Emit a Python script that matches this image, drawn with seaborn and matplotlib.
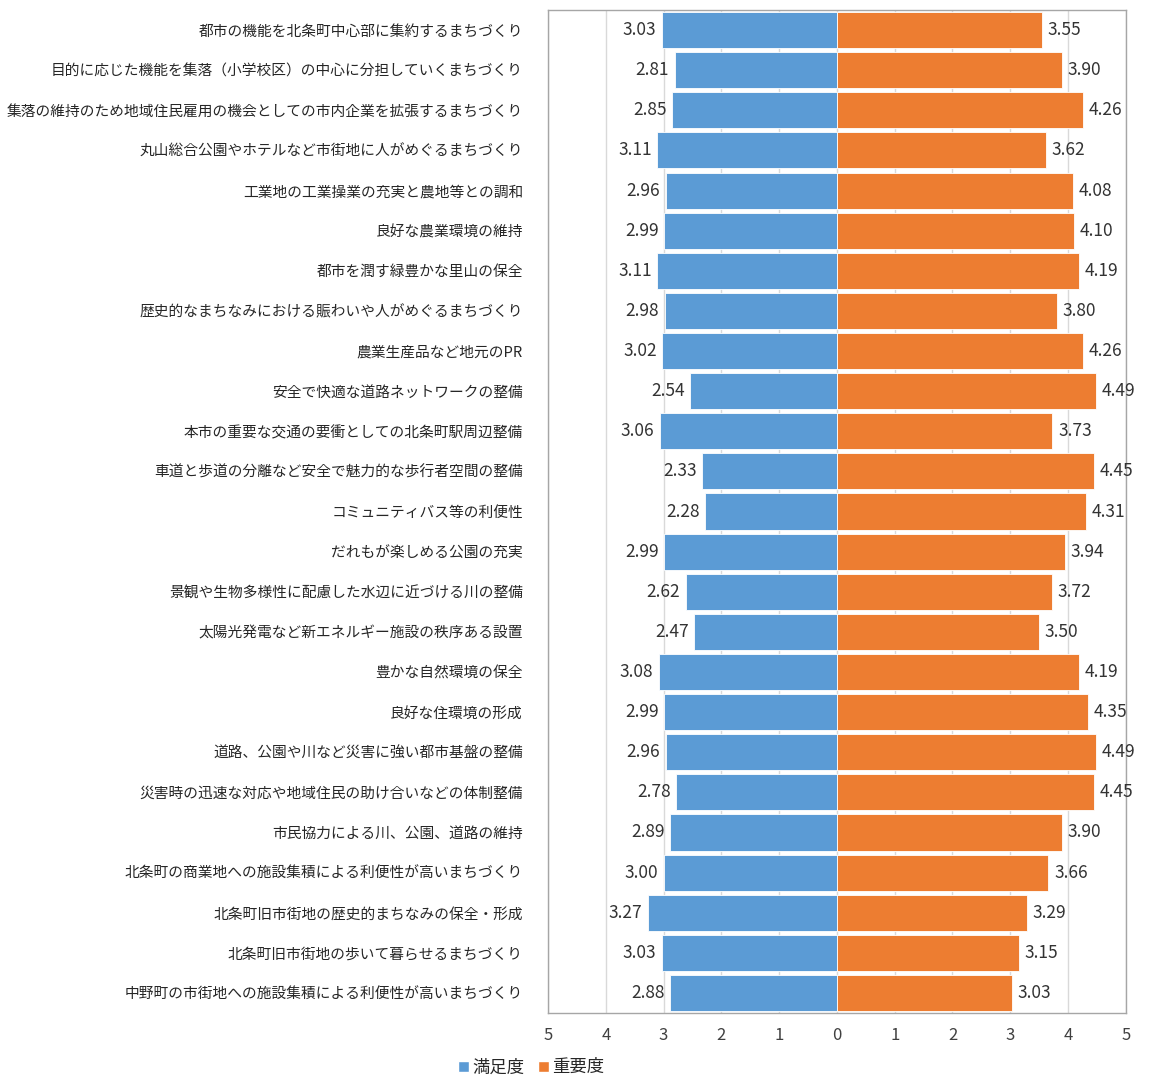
import matplotlib
matplotlib.use("Agg")
import matplotlib.pyplot as plt
import seaborn as sns
import pandas as pd
from matplotlib.patches import Patch

items = [
    "都市の機能を北条町中心部に集約するまちづくり",
    "目的に応じた機能を集落（小学校区）の中心に分担していくまちづくり",
    "集落の維持のため地域住民雇用の機会としての市内企業を拡張するまちづくり",
    "丸山総合公園やホテルなど市街地に人がめぐるまちづくり",
    "工業地の工業操業の充実と農地等との調和",
    "良好な農業環境の維持",
    "都市を潤す緑豊かな里山の保全",
    "歴史的なまちなみにおける賑わいや人がめぐるまちづくり",
    "農業生産品など地元のPR",
    "安全で快適な道路ネットワークの整備",
    "本市の重要な交通の要衝としての北条町駅周辺整備",
    "車道と歩道の分離など安全で魅力的な歩行者空間の整備",
    "コミュニティバス等の利便性",
    "だれもが楽しめる公園の充実",
    "景観や生物多様性に配慮した水辺に近づける川の整備",
    "太陽光発電など新エネルギー施設の秩序ある設置",
    "豊かな自然環境の保全",
    "良好な住環境の形成",
    "道路、公園や川など災害に強い都市基盤の整備",
    "災害時の迅速な対応や地域住民の助け合いなどの体制整備",
    "市民協力による川、公園、道路の維持",
    "北条町の商業地への施設集積による利便性が高いまちづくり",
    "北条町旧市街地の歴史的まちなみの保全・形成",
    "北条町旧市街地の歩いて暮らせるまちづくり",
    "中野町の市街地への施設集積による利便性が高いまちづくり",
]

satisfaction = [3.03, 2.81, 2.85, 3.11, 2.96, 2.99, 3.11, 2.98, 3.02, 2.54,
                3.06, 2.33, 2.28, 2.99, 2.62, 2.47, 3.08, 2.99, 2.96, 2.78,
                2.89, 3.00, 3.27, 3.03, 2.88]
importance = [3.55, 3.90, 4.26, 3.62, 4.08, 4.10, 4.19, 3.80, 4.26, 4.49,
              3.73, 4.45, 4.31, 3.94, 3.72, 3.50, 4.19, 4.35, 4.49, 4.45,
              3.90, 3.66, 3.29, 3.15, 3.03]

series_names = ["満足度", "重要度"]
series_colors = ["#5B9BD5", "#ED7D31"]
tick_values = [-5, -4, -3, -2, -1, 0, 1, 2, 3, 4, 5]
tick_labels = ["5", "4", "3", "2", "1", "0", "1", "2", "3", "4", "5"]

sns.set_theme(style="white")
plt.rcParams["font.family"] = ["Noto Sans CJK JP", "DejaVu Sans"]

# satisfaction drawn to the left (negative), importance to the right
df = pd.concat([
    pd.DataFrame({"item": items, "value": [-v for v in satisfaction], "series": series_names[0]}),
    pd.DataFrame({"item": items, "value": importance, "series": series_names[1]}),
], ignore_index=True)

fig = plt.figure(figsize=(11.5, 10.77), dpi=100)
ax = fig.add_axes([0.4765, 0.0594, 0.5025, 0.9313])

sns.barplot(data=df, y="item", x="value", hue="series", order=items,
            hue_order=series_names, dodge=False, width=0.9, saturation=1,
            palette=series_colors, edgecolor="white", linewidth=0.6,
            legend=False, ax=ax)

ax.set_xlim(-5, 5)
ax.set_ylim(len(items) - 0.5, -0.5)
ax.set_xticks(tick_values)
ax.set_xticklabels(tick_labels, fontsize=12, color="#404040")
ax.set_xlabel("")
ax.set_ylabel("")
ax.tick_params(axis="y", labelsize=10.6, colors="#262626", length=0, pad=18)
ax.tick_params(axis="x", length=4, color="#A6A6A6", pad=6)

ax.set_axisbelow(True)
ax.xaxis.grid(True, color="#D9D9D9", linewidth=1.0)
ax.yaxis.grid(False)
for side in ["left", "right", "top", "bottom"]:
    ax.spines[side].set_visible(True)
    ax.spines[side].set_color("#A6A6A6")
    ax.spines[side].set_linewidth(1.0)

# value labels at the outer end of each bar
ax.bar_label(ax.containers[0], labels=[f"{v:.2f}" for v in satisfaction],
             padding=4, fontsize=12.5, color="#333333")
ax.bar_label(ax.containers[1], labels=[f"{v:.2f}" for v in importance],
             padding=4, fontsize=12.5, color="#333333")

handles = [Patch(facecolor=c) for c in series_colors]
fig.legend(handles, series_names, loc="center", bbox_to_anchor=(0.462, 0.009),
           ncol=2, frameon=False, fontsize=12.5, handlelength=0.6,
           handleheight=0.6, handletextpad=0.2, columnspacing=0.8)

fig.savefig("out.png", dpi=100, facecolor="white")
